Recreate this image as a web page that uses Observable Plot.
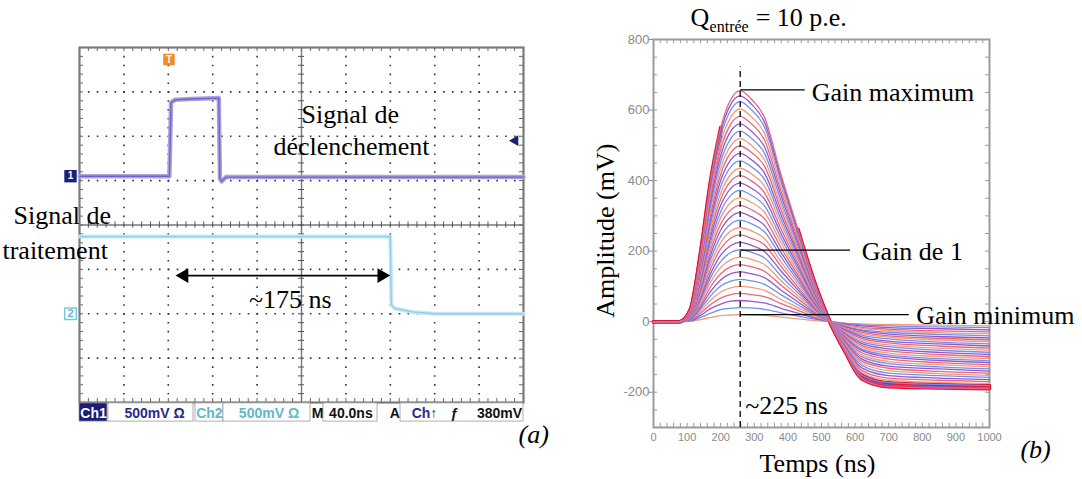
<!DOCTYPE html>
<html><head><meta charset="utf-8">
<script src="https://cdn.jsdelivr.net/npm/d3@7"></script>
<script src="https://cdn.jsdelivr.net/npm/@observablehq/plot@0.6"></script>
<style>
body{margin:0;background:#fff;}
#wrap{position:relative;width:1082px;height:479px;overflow:hidden;background:#fff;}
#left{position:absolute;left:0;top:0;}
#right{position:absolute;left:560px;top:0;}
</style>
</head><body>
<div id="wrap"><div id="left"></div><div id="right"></div></div>
<script>
// ---------- (a) oscilloscope data : time in ns (40 ns/div), level in divisions ----------
const ch1Time  = [0, 81, 82.5, 86, 100, 125.5, 126.5, 128, 132, 400];
const ch1Level = [5.1, 5.1, 6.76, 6.82, 6.84, 6.86, 5.05, 4.98, 5.08, 5.08];
const ch2Time  = [0, 280, 281, 284, 300, 320, 400];
const ch2Level = [3.74, 3.74, 2.2, 2.12, 2.04, 2.0, 2.0];
const delayStart = 86.5, delayEnd = 280, delayLevel = 2.86;
const scopeGridX = [40, 80, 120, 160, 240, 280, 320, 360];
const scopeGridY = [1, 2, 3, 5, 6, 7];
const statusTexts = ["Ch1", "500mV Ω", "Ch2", "500mV Ω", "M", "40.0ns", "A", "Ch↑", "ƒ", "380mV"];
const statusTextX = [12.6, 67.6, 117, 170.7, 214.4, 244.5, 284, 310.8, 337.8, 378.4];
const statusColors = ["#ffffff", "#2a2a8a", "#5fb8cf", "#5fb8cf", "#111", "#111", "#111", "#2a2a8a", "#111", "#111"];
const statusBoxX1 = [0, 26.1, 104.5, 129.7, 219.8, 289.2];
const statusBoxX2 = [25.2, 102.7, 129.7, 208.1, 268.5, 400];
const statusBoxFill = ["#1c1c78", "#fff", "#fff", "#fff", "#fff", "#fff"];

// ---------- (b) amplitude (mV) vs time (ns), one row per gain setting ----------
const times = [0, 78, 110, 140, 170, 200, 230, 258, 290, 330, 380, 430, 480, 525, 570, 620, 700, 850, 1000];
const curveValues = [
  [0,0,1,6,12,17,19,20,19,18,13,8,3,0,-4,-6,-8,-10,-12],
  [0,0,2,12,24,34,38,40,39,35,25,16,7,0,-5,-9,-12,-15,-17],
  [0,0,3,18,37,50,58,60,58,53,38,24,10,0,-7,-12,-17,-20,-23],
  [0,0,4,24,49,67,77,80,77,71,51,32,13,0,-9,-16,-21,-26,-29],
  [0,0,5,30,61,84,96,100,97,89,63,40,17,0,-11,-19,-25,-31,-34],
  [0,0,6,36,73,101,115,120,116,106,76,48,20,0,-13,-23,-30,-36,-40],
  [0,0,7,42,86,118,136,141,136,125,89,56,24,0,-15,-26,-35,-42,-46],
  [0,0,9,48,99,136,156,162,156,143,103,65,27,0,-18,-30,-40,-47,-52],
  [0,0,10,55,112,154,176,183,177,162,116,73,31,0,-20,-34,-44,-52,-57],
  [0,0,11,61,125,171,196,204,197,181,129,82,34,0,-22,-38,-49,-58,-63],
  [0,0,12,67,137,189,216,225,217,199,143,90,38,0,-24,-43,-55,-63,-69],
  [0,0,13,73,150,207,237,246,237,218,156,98,41,0,-27,-47,-60,-69,-75],
  [0,0,14,80,163,224,257,267,258,236,169,107,45,0,-29,-52,-66,-75,-81],
  [0,0,15,86,176,242,277,288,278,255,183,115,48,0,-32,-57,-71,-81,-87],
  [0,0,16,92,189,260,297,309,298,273,196,124,52,0,-35,-62,-77,-87,-93],
  [0,0,17,98,202,277,317,330,318,292,209,132,55,0,-37,-67,-83,-93,-99],
  [0,0,19,105,214,295,338,351,339,311,223,140,59,0,-40,-72,-89,-99,-105],
  [0,0,20,111,227,312,358,372,359,329,236,149,62,0,-43,-78,-95,-105,-111],
  [0,0,21,117,240,330,378,393,379,348,249,157,66,0,-45,-82,-100,-110,-116],
  [0,0,22,123,253,348,398,414,400,366,262,166,70,0,-48,-88,-106,-116,-122],
  [0,0,23,130,266,365,418,435,420,385,276,174,73,0,-51,-94,-113,-122,-128],
  [0,0,24,136,279,383,439,456,440,404,289,182,77,0,-54,-100,-119,-128,-134],
  [0,0,25,142,291,401,459,477,460,422,302,191,80,0,-57,-106,-126,-134,-140],
  [0,0,26,148,304,418,479,498,481,441,316,199,84,0,-60,-112,-132,-141,-146],
  [0,0,28,155,317,436,499,519,501,459,329,208,87,0,-64,-118,-139,-147,-152],
  [0,0,29,161,330,454,519,540,521,478,342,216,91,0,-67,-124,-146,-153,-158],
  [0,0,30,167,343,471,540,561,541,496,356,224,94,0,-70,-131,-153,-160,-164],
  [0,0,31,173,356,489,560,582,562,515,369,233,98,0,-74,-138,-160,-166,-170],
  [0,0,32,180,368,507,580,603,582,534,382,241,101,0,-77,-144,-166,-172,-175],
  [0,0,33,186,381,524,600,624,602,552,396,250,105,0,-80,-151,-173,-178,-181],
  [0,0,34,191,391,538,616,640,618,566,406,256,108,0,-83,-157,-179,-184,-186],
  [0,0,35,195,400,550,630,655,632,580,415,262,110,0,-85,-162,-184,-188,-190]
];
const curveColors = ["#f39a7b", "#6f90f0", "#9357c9", "#e8657f"];
const redBandFirst = 29;
const redRiseEnd = 200, redFallStart = 430;
const xTicks = [0, 100, 200, 300, 400, 500, 600, 700, 800, 900, 1000];
const yTicks = [-200, 0, 200, 400, 600, 800];
const peakTime = 258;
const gainLabels = ["Gain maximum", "Gain de 1", "Gain minimum"];
const gainLevels = [657, 203, 20];
const leaderEnds = [450, 585, 760];
const labelStarts = [471, 620, 782];
const labelBaselines = [627, 176, -6];

// ---------- (a) ----------
const serif = "Liberation Serif, Times New Roman, serif";
const sans = "Liberation Sans, Arial, sans-serif";
const sx = d3.range(0, 400.01, 8);
const sy = d3.range(0, 8.001, 0.2);
const ch1 = ch1Time.map((t, i) => ({t, v: ch1Level[i]}));
const ch2 = ch2Time.map((t, i) => ({t, v: ch2Level[i]}));
const boxes = statusBoxX1.map((x1, i) => ({x1, x2: statusBoxX2[i], fill: statusBoxFill[i]}));
const stat = statusTexts.map((t, i) => ({t, x: statusTextX[i], c: statusColors[i]}));

const left = Plot.plot({
  width: 560, height: 479,
  marginLeft: 79, marginRight: 37, marginTop: 47, marginBottom: 77,
  x: {domain: [0, 400], axis: null},
  y: {domain: [0, 8], axis: null},
  color: {type: "identity"},
  style: {overflow: "visible", background: "transparent", fontFamily: sans},
  marks: [
    Plot.ruleX(scopeGridX, {stroke: "#333", strokeWidth: 1.6, strokeDasharray: "1.6,7.27"}),
    Plot.ruleY(scopeGridY, {stroke: "#333", strokeWidth: 1.6, strokeDasharray: "1.6,7.28"}),
    Plot.ruleX([200], {stroke: "#777", strokeWidth: 1.4}),
    Plot.ruleY([4], {stroke: "#777", strokeWidth: 1.4}),
    Plot.ruleX(sx, {y1: 3.93, y2: 4.07, stroke: "#555"}),
    Plot.ruleY(sy, {x1: 197.3, x2: 202.7, stroke: "#555"}),
    Plot.ruleX(sx, {y1: 0, y2: 0.09, stroke: "#666"}),
    Plot.ruleX(sx, {y1: 7.91, y2: 8, stroke: "#666"}),
    Plot.ruleY(sy, {x1: 0, x2: 3.6, stroke: "#666"}),
    Plot.ruleY(sy, {x1: 396.4, x2: 400, stroke: "#666"}),
    Plot.frame({stroke: "#7a7a7a", strokeWidth: 2.2}),
    Plot.line(ch1, {x: "t", y: "v", stroke: "#aaa3df", strokeWidth: 4.5}),
    Plot.line(ch1, {x: "t", y: "v", stroke: "#6f66c2", strokeWidth: 1.4}),
    Plot.line(ch2, {x: "t", y: "v", stroke: "#c6e6f4", strokeWidth: 4}),
    Plot.line(ch2, {x: "t", y: "v", stroke: "#92cfe7", strokeWidth: 1.3}),
    // markers
    Plot.dot([0], {x: 80.6, y: 7.73, symbol: "square", r: 6.5, fill: "#f08c2a"}),
    Plot.text(["T"], {x: 80.6, y: 7.73, fill: "white", fontWeight: "bold", fontSize: 10}),
    Plot.dot([0], {x: -8.1, y: 5.1, symbol: "square", r: 7, fill: "#1c1f78"}),
    Plot.text(["1"], {x: -8.1, y: 5.1, fill: "white", fontWeight: "bold", fontSize: 10}),
    Plot.dot([0], {x: -8.1, y: 2.0, symbol: "square", r: 6.5, fill: "white", stroke: "#7cc8dc", strokeWidth: 1.5}),
    Plot.text(["2"], {x: -8.1, y: 2.0, fill: "#5fb8cf", fontWeight: "bold", fontSize: 11}),
    Plot.dot([0], {x: 392.5, y: 5.9, symbol: "triangle", rotate: -90, r: 4, fill: "#1c1f78"}),
    // delay arrow
    Plot.link([0], {x1: delayStart + 4, x2: delayEnd - 4, y1: delayLevel, y2: delayLevel, stroke: "black", strokeWidth: 1.6}),
    Plot.dot([0], {x: delayStart + 7.7, y: delayLevel, symbol: "triangle", rotate: -90, r: 5.5, fill: "black"}),
    Plot.dot([0], {x: delayEnd - 7.7, y: delayLevel, symbol: "triangle", rotate: 90, r: 5.5, fill: "black"}),
    // status bar
    Plot.rect(boxes, {x1: "x1", x2: "x2", y1: -0.02, y2: -0.43, fill: "fill", stroke: "#999", strokeWidth: 0.8}),
    Plot.text(stat, {x: "x", y: -0.34, text: "t", fill: "c", fontWeight: "bold", fontSize: 14, lineAnchor: "bottom"}),
    // annotations
    Plot.text(["Signal de"], {x: 244, y: 6.29, fontFamily: serif, fontSize: 26, lineAnchor: "bottom", fill: "#000"}),
    Plot.text(["déclenchement"], {x: 245, y: 5.57, fontFamily: serif, fontSize: 26, lineAnchor: "bottom", fill: "#000"}),
    Plot.text(["Signal de"], {x: -59.5, y: 4.03, fontFamily: serif, fontSize: 26, lineAnchor: "bottom", textAnchor: "start", fill: "#000"}),
    Plot.text(["traitement"], {x: -69.4, y: 3.245, fontFamily: serif, fontSize: 26, lineAnchor: "bottom", textAnchor: "start", fill: "#000"}),
    Plot.text(["~175 ns"], {x: 190, y: 2.14, fontFamily: serif, fontSize: 26, lineAnchor: "bottom", fill: "#000"}),
    Plot.text(["(a)"], {x: 395.5, y: -0.92, fontFamily: serif, fontSize: 26, fontStyle: "italic", lineAnchor: "bottom", textAnchor: "start", fill: "#000"})
  ]
});
document.getElementById("left").appendChild(left);

// ---------- (b) ----------
const curveRows = curveValues.flatMap((vals, id) => vals.map((v, j) => ({t: times[j], v, id, c: curveColors[id % curveColors.length]})));
const redRows = curveRows
  .filter(d => d.id >= redBandFirst && (d.t <= redRiseEnd || d.t >= redFallStart))
  .map(d => ({...d, seg: d.id * 2 + (d.t >= redFallStart ? 1 : 0)}));
const notes = gainLabels.map((label, i) => ({label, y: gainLevels[i], x2: leaderEnds[i], tx: labelStarts[i], ty: labelBaselines[i]}));
const xMinor = d3.range(0, 1000.01, 20);
const yMinor = d3.range(-300, 800.01, 50);

const right = Plot.plot({
  width: 522, height: 479,
  marginLeft: 93, marginRight: 93, marginTop: 39, marginBottom: 52,
  x: {domain: [0, 1000]},
  y: {domain: [-300, 800]},
  color: {type: "identity"},
  style: {overflow: "visible", background: "transparent", fontFamily: sans},
  marks: [
    Plot.ruleX(xMinor, {y1: -300, y2: -288, stroke: "#9a9a9a"}),
    Plot.ruleX(xMinor, {y1: 800, y2: 788, stroke: "#9a9a9a"}),
    Plot.ruleY(yMinor, {x1: 0, x2: 12, stroke: "#9a9a9a"}),
    Plot.ruleY(yMinor, {x1: 988, x2: 1000, stroke: "#9a9a9a"}),
    Plot.axisX(xTicks, {anchor: "bottom", tickSize: 0, tickPadding: 6, fontSize: 11, color: "#8a8a8a", label: null, tickFormat: d => String(d)}),
    Plot.axisY(yTicks, {anchor: "left", tickSize: 4, tickPadding: 0, fontSize: 13, color: "#8a8a8a", label: null, tickFormat: d => String(d)}),
    Plot.frame({stroke: "#9a9a9a", strokeWidth: 2}),
    Plot.line(redRows, {x: "t", y: "v", z: "seg", stroke: "#e3122e", strokeWidth: 3.6, strokeLinecap: "round", curve: "monotone-x"}),
    Plot.line(curveRows, {x: "t", y: "v", z: "id", stroke: "c", strokeWidth: 1.3, curve: "monotone-x"}),
    Plot.ruleX([peakTime], {y1: -300, y2: 722, stroke: "#000", strokeWidth: 1.3, strokeDasharray: "6,4"}),
    Plot.link(notes, {x1: peakTime, x2: "x2", y1: "y", y2: "y", stroke: "#000", strokeWidth: 1.3}),
    Plot.text(notes, {x: "tx", y: "ty", text: "label", textAnchor: "start", lineAnchor: "bottom", fontFamily: serif, fontSize: 26, fill: "#000"}),
    Plot.text(["~225 ns"], {x: 273, y: -261, textAnchor: "start", lineAnchor: "bottom", fontFamily: serif, fontSize: 26, fill: "#000"}),
    Plot.text(["Q"], {x: 110, y: 839, textAnchor: "start", lineAnchor: "bottom", fontFamily: serif, fontSize: 26, fill: "#000"}),
    Plot.text(["entrée"], {x: 167, y: 822, textAnchor: "start", lineAnchor: "bottom", fontFamily: serif, fontSize: 16, fill: "#000"}),
    Plot.text(["= 10 p.e."], {x: 304, y: 839, textAnchor: "start", lineAnchor: "bottom", fontFamily: serif, fontSize: 26, fill: "#000"}),
    Plot.text(["Temps (ns)"], {x: 488, y: -425, lineAnchor: "bottom", fontFamily: serif, fontSize: 26, fill: "#000"}),
    Plot.text(["Amplitude (mV)"], {x: -119, y: 258, rotate: -90, lineAnchor: "bottom", fontFamily: serif, fontSize: 26, fill: "#000"}),
    Plot.text(["(b)"], {x: 1092, y: -386, textAnchor: "start", lineAnchor: "bottom", fontFamily: serif, fontSize: 26, fontStyle: "italic", fill: "#000"})
  ]
});
document.getElementById("right").appendChild(right);
</script>
</body></html>
